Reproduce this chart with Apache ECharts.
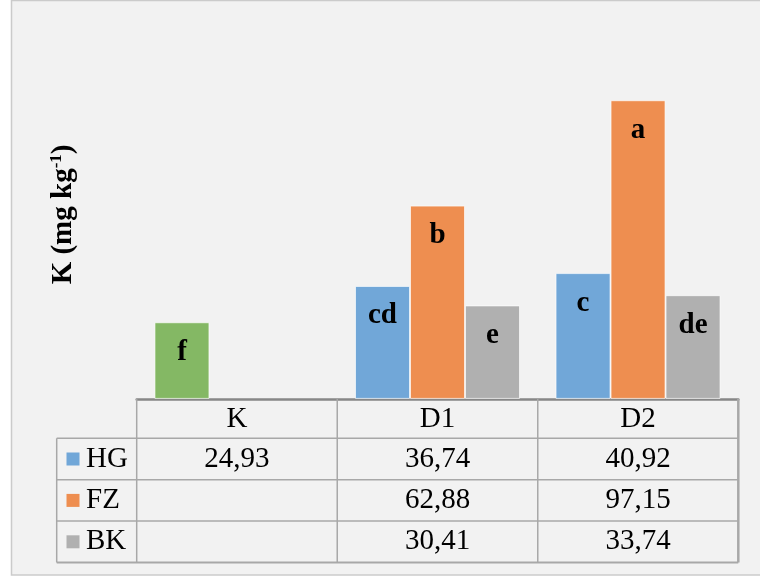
<!DOCTYPE html>
<html>
<head>
<meta charset="utf-8">
<script src="https://cdn.jsdelivr.net/npm/echarts@6/dist/echarts.min.js"></script>
<style>
  html, body { margin: 0; padding: 0; background: #ffffff; }
  #chart { width: 760px; height: 579px; }
</style>
</head>
<body>
<div id="chart"></div>
<script>
// Potassium content per treatment and product
const categories = ['K', 'D1', 'D2'];
const seriesNames = ['HG', 'FZ', 'BK'];
const hgValues = [24.93, 36.74, 40.92];
const fzValues = [null, 62.88, 97.15];
const bkValues = [null, 30.41, 33.74];
// significance letters written inside each bar
const hgLetters = ['f', 'cd', 'c'];
const fzLetters = ['', 'b', 'a'];
const bkLetters = ['', 'e', 'de'];
const yAxisMax = 120;

const COLORS = { HG: '#71a7d8', FZ: '#ee8e50', BK: '#b0b0b0', control: '#84b864' };
const SERIF = '"Liberation Serif", "Times New Roman", serif';
const LINE = '#a8a8a8';
const TEXT_SIZE = 29;

const chart = echarts.init(document.getElementById('chart'), null, { renderer: 'canvas' });

function barSeries(name, values, letters, color) {
  return {
    name: name,
    type: 'bar',
    barWidth: 55,
    barGap: '0%',
    data: values.map((v, i) => (name === 'HG' && i === 0)
      ? { value: v, itemStyle: { color: COLORS.control } }
      : v),
    itemStyle: { color: color, borderColor: 'rgba(255,255,255,0.65)', borderWidth: 1 },
    label: {
      show: true,
      position: ['50%', 30],
      align: 'center',
      verticalAlign: 'middle',
      formatter: p => letters[p.dataIndex] || '',
      fontFamily: SERIF,
      fontWeight: 'bold',
      fontSize: 29,
      color: '#000'
    }
  };
}

const baseOption = {
  animation: false,
  backgroundColor: 'transparent',
  grid: { left: 136.7, right: 21.7, top: 30, bottom: 180.1 },
  xAxis: {
    type: 'category',
    data: categories,
    axisLine: { show: true, lineStyle: { color: '#878787', width: 2.5 } },
    axisTick: { show: false },
    axisLabel: {
      show: true, margin: 6, lineHeight: 28,
      fontFamily: SERIF, fontSize: TEXT_SIZE, color: '#000'
    },
    splitLine: { show: false }
  },
  yAxis: {
    type: 'value',
    min: 0,
    max: yAxisMax,
    axisLine: { show: false },
    axisTick: { show: false },
    axisLabel: { show: false },
    splitLine: { show: false },
    name: '{t|K (mg kg}{s|-1}{t|)}',
    nameLocation: 'middle',
    nameRotate: 90,
    nameGap: 57,
    nameTextStyle: {
      rich: {
        t: { fontFamily: SERIF, fontWeight: 'bold', fontSize: 29, lineHeight: 32, color: '#000' },
        s: { fontFamily: SERIF, fontWeight: 'bold', fontSize: 17, lineHeight: 20, verticalAlign: 'top', color: '#000' }
      }
    }
  },
  series: [
    barSeries('HG', hgValues, hgLetters, COLORS.HG),
    barSeries('FZ', fzValues, fzLetters, COLORS.FZ),
    barSeries('BK', bkValues, bkLetters, COLORS.BK)
  ]
};

chart.setOption(baseOption);

// Data table under the plot, aligned to the category axis
function fmt(v) { return v == null ? '' : v.toFixed(2).replace('.', ','); }

const c0 = chart.convertToPixel({ xAxisIndex: 0 }, categories[0]);
const c1 = chart.convertToPixel({ xAxisIndex: 0 }, categories[1]);
const band = c1 - c0;
const tableLeft = c0 - band / 2;
const tableRight = tableLeft + band * categories.length;
const axisY = chart.convertToPixel({ yAxisIndex: 0 }, 0);
const headerH = 39.4;
const rowH = 41.4;
const legendLeft = 56.7;
const rowsTop = axisY + headerH;
const tableBottom = rowsTop + rowH * seriesNames.length;
const rowValues = [hgValues, fzValues, bkValues];

const graphics = [];
// chart frame
graphics.push({
  type: 'rect', z: -5, silent: true,
  shape: { x: 11.5, y: 0.5, width: 800, height: 574.5 },
  style: { fill: '#f2f2f2', stroke: '#cbcbcb', lineWidth: 1.5 }
});

function hline(x1, x2, y, w) {
  graphics.push({ type: 'line', z: 1, silent: true, shape: { x1, y1: y, x2, y2: y }, style: { stroke: LINE, lineWidth: w || 1.5 } });
}
function vline(x, y1, y2, w) {
  graphics.push({ type: 'line', z: 1, silent: true, shape: { x1: x, y1, x2: x, y2 }, style: { stroke: LINE, lineWidth: w || 1.5 } });
}

for (let i = 0; i <= categories.length; i++) {
  vline(tableLeft + band * i, axisY, tableBottom, i === categories.length ? 2.5 : 1.5);
}
vline(legendLeft, rowsTop, tableBottom);
for (let r = 0; r <= seriesNames.length; r++) {
  hline(legendLeft, tableRight, rowsTop + rowH * r, r === seriesNames.length ? 2 : 1.5);
}

seriesNames.forEach((name, r) => {
  const cy = rowsTop + rowH * r + rowH / 2;
  graphics.push({
    type: 'rect', z: 3, silent: true,
    shape: { x: 66.5, y: cy - 6.5, width: 13, height: 13 },
    style: { fill: COLORS[name] }
  });
  graphics.push({
    type: 'text', z: 3, silent: true, x: 86, y: cy,
    style: { text: name, font: TEXT_SIZE + 'px ' + SERIF, fill: '#000', textAlign: 'left', textVerticalAlign: 'middle' }
  });
  rowValues[r].forEach((v, i) => {
    const cx = chart.convertToPixel({ xAxisIndex: 0 }, categories[i]);
    graphics.push({
      type: 'text', z: 3, silent: true, x: cx, y: cy,
      style: { text: fmt(v), font: TEXT_SIZE + 'px ' + SERIF, fill: '#000', textAlign: 'center', textVerticalAlign: 'middle' }
    });
  });
});

chart.setOption({ graphic: graphics });
</script>
</body>
</html>
